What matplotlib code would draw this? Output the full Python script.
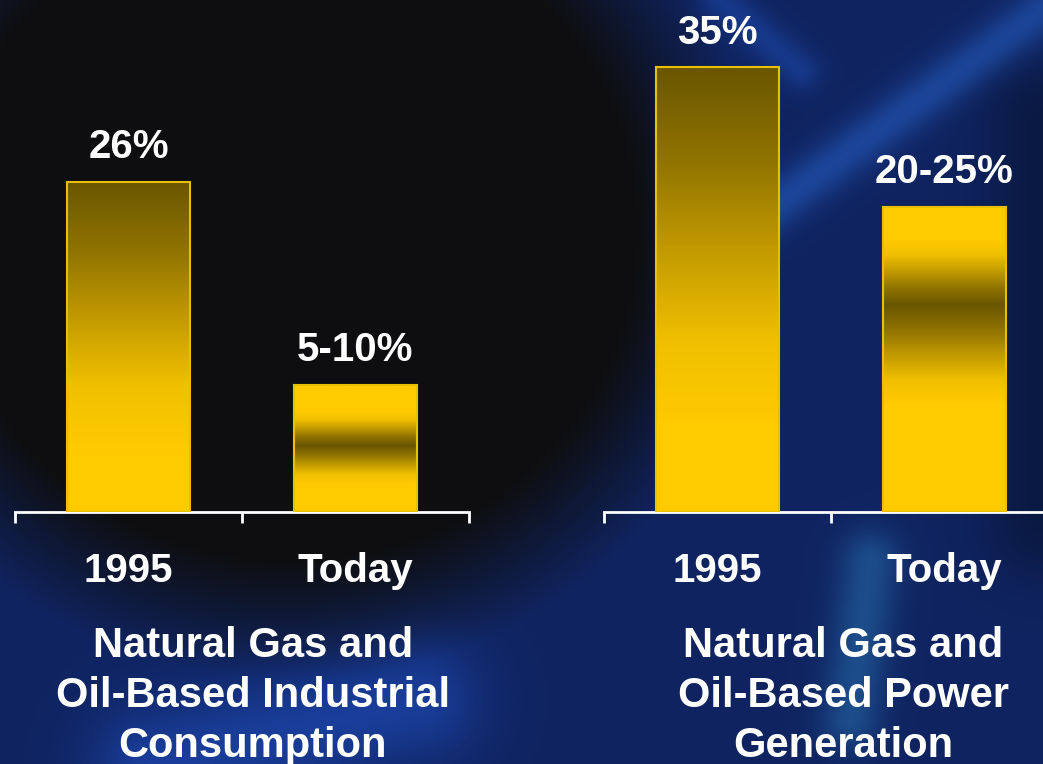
import numpy as np
import matplotlib.pyplot as plt
from matplotlib.colors import LinearSegmentedColormap

plt.rcParams['font.family'] = ['Liberation Sans', 'DejaVu Sans']
plt.rcParams['font.weight'] = 'bold'

# data
categories = ['1995', 'Today']
industrial_values = [26, 10]
industrial_labels = ['26%', '5-10%']
power_values = [35, 24]
power_labels = ['35%', '20-25%']
panel_titles = ['Natural Gas and\nOil-Based Industrial\nConsumption',
                'Natural Gas and\nOil-Based Power\nGeneration']

W, H = 1043, 764
fig = plt.figure(figsize=(W / 100, H / 100), dpi=100)

# ---- background: dark disc on the left, blue glow elsewhere ----
yy, xx = np.mgrid[0:H, 0:W].astype(float)
d = np.hypot((xx - 290) * 0.95, yy - 230)
mix = np.clip((d - 330) / 120, 0, 1)[..., None]
dark = np.array([0.055, 0.058, 0.065])
blue = np.array([0.06, 0.14, 0.38])
img = dark * (1 - mix) + blue * mix


def streak(p0, p1, width, color):
    p0, p1 = np.array(p0, float), np.array(p1, float)
    v = p1 - p0
    t = np.clip(((xx - p0[0]) * v[0] + (yy - p0[1]) * v[1]) / (v @ v), 0, 1)
    dist = np.hypot(xx - (p0[0] + t * v[0]), yy - (p0[1] + t * v[1]))
    return np.exp(-(dist / width) ** 2)[..., None] * np.array(color)


img = img + streak((700, 260), (1043, 10), 24, [0.05, 0.13, 0.22])
img = img + streak((720, 0), (800, 70), 20, [0.03, 0.08, 0.16])
img = img + streak((870, 560), (850, 720), 30, [0.05, 0.16, 0.16])
img = img + streak((150, 764), (420, 700), 60, [0.04, 0.10, 0.22])
img = img + streak((1043, 120), (1043, 520), 60, [-0.02, -0.04, -0.12])
img = np.clip(img, 0, 1)

bg = fig.add_axes([0, 0, 1, 1])
bg.imshow(img, aspect='auto', interpolation='bilinear')
bg.axis('off')

gold = LinearSegmentedColormap.from_list(
    'gold', ['#6a5600', '#8f7300', '#c29a00', '#f0bf00', '#ffcb00'])


def bright_fade(t):
    # dark at the top, bright at the bottom
    return np.clip(1 - (t - 0.18) / 0.82, 0, 1)


def bright_band(center, lo, hi):
    def f(t):
        return np.where(t < center, np.clip((center - t) / lo, 0, 1),
                        np.clip((t - center) / hi, 0, 1))
    return f


def panel(left_px, values, labels, shades, title, title_x):
    ax = fig.add_axes([left_px / W, (H - 512) / H, 454 / W, 512 / H])
    ax.set_facecolor('none')
    x = np.arange(len(categories))
    bars = ax.bar(x, values, width=0.54, facecolor='none',
                  edgecolor='#e9c000', linewidth=1.5, zorder=3)
    t = np.linspace(0, 1, 200)[::-1]
    for bar, shade in zip(bars, shades):
        grad = shade(t)[:, None]
        x0, w, h = bar.get_x(), bar.get_width(), bar.get_height()
        im = ax.imshow(grad, cmap=gold, vmin=0, vmax=1, aspect='auto',
                       extent=[x0, x0 + w, 0, h], zorder=2)
        im.set_clip_path(bar)
    for bar, lab in zip(bars, labels):
        ax.annotate(lab, (bar.get_x() + bar.get_width() / 2, bar.get_height()),
                    xytext=(0, 17), textcoords='offset points',
                    ha='center', va='baseline', color='white',
                    fontsize=29, fontweight='bold')
    ax.set_xlim(-0.5, 1.5)
    ax.set_ylim(0, 40.3)
    for s in ['top', 'left', 'right']:
        ax.spines[s].set_visible(False)
    ax.spines['bottom'].set_color('white')
    ax.spines['bottom'].set_linewidth(2)
    ax.set_yticks([])
    ax.set_xticks(x, categories)
    ax.set_xticks([-0.5, 0.5, 1.5], minor=True)
    ax.tick_params(axis='x', which='major', length=0, pad=29,
                   labelsize=29, labelcolor='white')
    ax.tick_params(axis='x', which='minor', length=8, width=2,
                   color='white', direction='out')
    for lab in ax.get_xticklabels():
        lab.set_fontweight('bold')
    fig.text(title_x / W, 1 - 626 / H, title, ha='center', va='top',
             color='white', fontsize=30, fontweight='bold', linespacing=1.32)
    return ax


panel(15, industrial_values, industrial_labels,
      [bright_fade, bright_band(0.52, 0.3, 0.27)], panel_titles[0], 253)
panel(604, power_values, power_labels,
      [bright_fade, bright_band(0.68, 0.33, 0.22)], panel_titles[1], 843)

fig.savefig('out.png', dpi=100)
